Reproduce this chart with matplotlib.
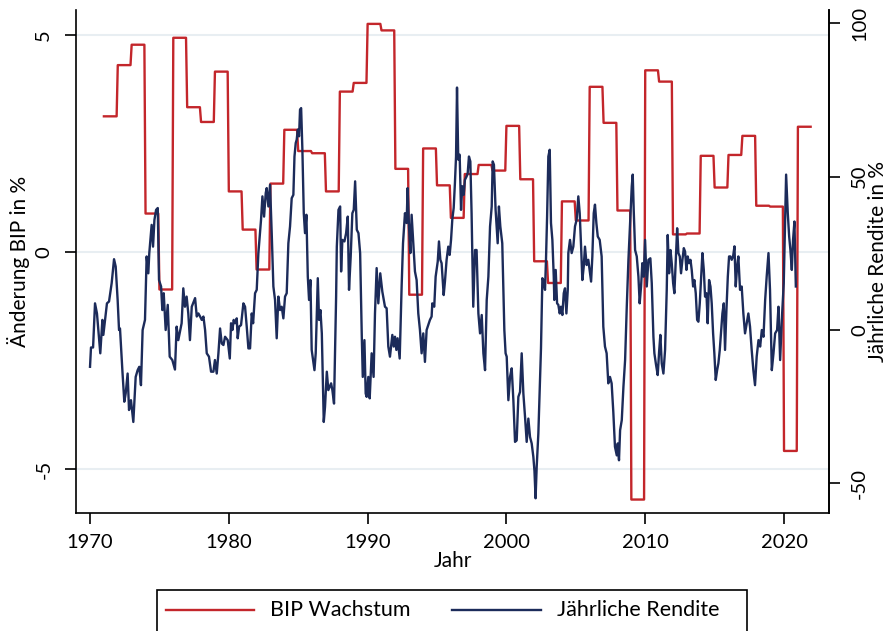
import matplotlib.pyplot as plt
from matplotlib.lines import Line2D
from matplotlib.patches import Rectangle

plt.rcParams['font.family'] = ['Lato', 'DejaVu Sans']

# BIP Wachstum, jaehrlich (in %)
bip_years = list(range(1971, 2022))
bip_values = [3.13, 4.31, 4.78, 0.89, -0.86, 4.94, 3.34, 3.00, 4.16, 1.40,
              0.52, -0.40, 1.58, 2.82, 2.33, 2.28, 1.40, 3.70, 3.90, 5.26,
              5.11, 1.92, -0.98, 2.39, 1.54, 0.79, 1.80, 2.01, 1.88, 2.91,
              1.68, -0.21, -0.71, 1.17, 0.73, 3.81, 2.98, 0.96, -5.70, 4.19,
              3.93, 0.41, 0.43, 2.22, 1.49, 2.24, 2.68, 1.07, 1.05, -4.58,
              2.89]

# Jaehrliche Rendite (in %)
ret_years = [
    1970.0, 1970.07, 1970.22, 1970.36, 1970.5, 1970.6, 1970.74, 1970.89, 1970.96, 1971.22,
    1971.37, 1971.56, 1971.73, 1971.85, 1971.99, 1972.09, 1972.16, 1972.33, 1972.47, 1972.57,
    1972.71, 1972.81, 1972.95, 1973.12, 1973.29, 1973.43, 1973.55, 1973.67, 1973.79, 1973.96,
    1974.08, 1974.2, 1974.27, 1974.44, 1974.54, 1974.64, 1974.76, 1974.88, 1974.97, 1975.12,
    1975.21, 1975.31, 1975.45, 1975.6, 1975.74, 1975.93, 1976.12, 1976.24, 1976.36, 1976.6,
    1976.72, 1976.84, 1976.96, 1977.08, 1977.2, 1977.33, 1977.57, 1977.69, 1977.81, 1977.93,
    1978.05, 1978.17, 1978.29, 1978.41, 1978.57, 1978.72, 1978.89, 1979.0, 1979.13, 1979.25,
    1979.37, 1979.49, 1979.61, 1979.73, 1979.92, 1980.07, 1980.16, 1980.26, 1980.35, 1980.45,
    1980.57, 1980.64, 1980.74, 1980.88, 1981.05, 1981.17, 1981.29, 1981.41, 1981.53, 1981.65,
    1981.75, 1981.89, 1982.01, 1982.13, 1982.25, 1982.32, 1982.42, 1982.54, 1982.66, 1982.73,
    1982.85, 1982.97, 1983.09, 1983.21, 1983.33, 1983.45, 1983.57, 1983.69, 1983.81, 1983.93,
    1984.05, 1984.17, 1984.29, 1984.41, 1984.53, 1984.65, 1984.73, 1984.82, 1984.89, 1984.97,
    1985.06, 1985.13, 1985.21, 1985.3, 1985.4, 1985.49, 1985.59, 1985.69, 1985.78, 1985.88,
    1985.97, 1986.17, 1986.26, 1986.41, 1986.5, 1986.6, 1986.7, 1986.84, 1986.93, 1987.06,
    1987.17, 1987.37, 1987.46, 1987.58, 1987.73, 1987.78, 1987.9, 1988.02, 1988.09, 1988.18,
    1988.33, 1988.45, 1988.57, 1988.66, 1988.78, 1988.9, 1989.0, 1989.1, 1989.22, 1989.34,
    1989.46, 1989.58, 1989.65, 1989.77, 1989.86, 1989.93, 1990.05, 1990.15, 1990.29, 1990.43,
    1990.53, 1990.65, 1990.77, 1990.91, 1991.06, 1991.25, 1991.37, 1991.49, 1991.61, 1991.78,
    1991.88, 1991.97, 1992.07, 1992.16, 1992.31, 1992.45, 1992.55, 1992.69, 1992.81, 1992.88,
    1992.98, 1993.08, 1993.17, 1993.29, 1993.41, 1993.53, 1993.65, 1993.77, 1993.89, 1994.01,
    1994.13, 1994.25, 1994.37, 1994.49, 1994.61, 1994.66, 1994.8, 1994.9, 1995.05, 1995.14,
    1995.24, 1995.33, 1995.48, 1995.57, 1995.69, 1995.81, 1995.91, 1996.01, 1996.1, 1996.2,
    1996.29, 1996.37, 1996.44, 1996.53, 1996.63, 1996.73, 1996.82, 1996.92, 1997.01, 1997.13,
    1997.21, 1997.3, 1997.4, 1997.49, 1997.61, 1997.74, 1997.85, 1997.98, 1998.1, 1998.22,
    1998.34, 1998.46, 1998.58, 1998.7, 1998.82, 1998.94, 1999.01, 1999.1, 1999.22, 1999.37,
    1999.46, 1999.56, 1999.7, 1999.85, 1999.94, 2000.02, 2000.14, 2000.26, 2000.38, 2000.5,
    2000.62, 2000.74, 2000.86, 2000.98, 2001.1, 2001.22, 2001.34, 2001.46, 2001.58, 2001.7,
    2001.82, 2001.94, 2002.02, 2002.1, 2002.18, 2002.3, 2002.42, 2002.49, 2002.59, 2002.69,
    2002.78, 2002.85, 2002.93, 2003.02, 2003.12, 2003.21, 2003.31, 2003.41, 2003.45, 2003.55,
    2003.65, 2003.74, 2003.84, 2003.93, 2004.03, 2004.13, 2004.22, 2004.32, 2004.42, 2004.46,
    2004.58, 2004.7, 2004.82, 2004.94, 2005.06, 2005.18, 2005.28, 2005.38, 2005.47, 2005.57,
    2005.66, 2005.78, 2005.9, 2006.02, 2006.1, 2006.19, 2006.29, 2006.38, 2006.48, 2006.58,
    2006.72, 2006.86, 2006.98, 2007.1, 2007.22, 2007.34, 2007.46, 2007.58, 2007.7, 2007.82,
    2007.95, 2008.02, 2008.11, 2008.19, 2008.31, 2008.43, 2008.55, 2008.67, 2008.79, 2008.91,
    2009.03, 2009.1, 2009.17, 2009.27, 2009.39, 2009.51, 2009.6, 2009.7, 2009.79, 2009.89,
    2009.99, 2010.11, 2010.23, 2010.37, 2010.47, 2010.59, 2010.66, 2010.78, 2010.9, 2011.0,
    2011.09, 2011.19, 2011.31, 2011.43, 2011.55, 2011.62, 2011.72, 2011.82, 2011.91, 2012.01,
    2012.1, 2012.2, 2012.3, 2012.39, 2012.49, 2012.58, 2012.68, 2012.78, 2012.87, 2012.97,
    2013.06, 2013.16, 2013.26, 2013.35, 2013.45, 2013.54, 2013.64, 2013.74, 2013.83, 2013.93,
    2014.03, 2014.12, 2014.22, 2014.31, 2014.41, 2014.5, 2014.6, 2014.7, 2014.79, 2014.89,
    2014.98, 2015.08, 2015.18, 2015.27, 2015.37, 2015.47, 2015.56, 2015.66, 2015.75, 2015.85,
    2015.95, 2016.04, 2016.14, 2016.23, 2016.33, 2016.43, 2016.52, 2016.62, 2016.71, 2016.83,
    2016.95, 2017.07, 2017.19, 2017.31, 2017.43, 2017.55, 2017.67, 2017.79, 2017.91, 2018.03,
    2018.16, 2018.28, 2018.4, 2018.52, 2018.64, 2018.75, 2018.88, 2018.99, 2019.12, 2019.24,
    2019.36, 2019.5, 2019.6, 2019.72, 2019.84, 2019.98, 2020.08, 2020.15, 2020.27, 2020.37,
    2020.46, 2020.56, 2020.65, 2020.75, 2020.85,
]
ret_values = [
    -12.0, -5.7, -5.7, 8.7, 5.4, 0.0, -7.6, 3.3, -1.6, 8.7,
    9.3, 15.3, 23.1, 20.7, 9.8, 0.0, 0.5, -13.1, -23.4, -20.7,
    -14.2, -26.1, -22.9, -30.0, -15.3, -13.1, -12.0, -18.0, 0.0, 3.3,
    24.0, 18.5, 25.1, 34.3, 27.2, 35.9, 39.2, 39.8, 16.3, 14.2,
    6.5, 12.0, 0.0, 8.2, -8.7, -9.8, -12.9, 1.1, -3.3, 2.2,
    13.6, 7.6, 10.9, 5.4, -3.3, 7.6, 10.4, 4.4, 5.4, 4.4,
    3.3, 4.4, 0.0, -7.6, -8.7, -13.6, -13.6, -9.8, -14.2, -7.6,
    0.5, -4.4, -4.9, -2.2, -3.3, -9.3, 2.2, 0.0, 3.3, 2.2,
    3.8, -2.7, 1.1, 1.6, 8.7, 7.6, 1.1, -6.0, -6.0, 5.4,
    2.2, 12.0, 13.1, 25.1, 32.1, 35.9, 43.6, 37.0, 44.7, 46.3,
    40.3, 47.4, 31.6, 14.2, 9.8, -2.7, 10.9, 6.5, 7.6, 3.8,
    10.9, 12.0, 28.3, 33.8, 43.0, 44.1, 56.6, 61.0, 62.1, 65.4,
    63.2, 71.9, 72.4, 58.8, 38.1, 31.6, 37.6, 17.4, 9.8, 16.3,
    -6.5, -13.1, -7.6, 16.9, 3.3, 6.5, -1.1, -30.0, -25.1, -13.6,
    -19.6, -17.4, -19.6, -24.0, 10.9, 27.2, 39.2, 40.3, 19.1, 29.4,
    28.9, 31.6, 37.0, 13.1, 23.9, 38.1, 39.2, 48.5, 32.7, 31.6,
    25.1, -2.2, -15.3, -3.3, -20.7, -21.8, -15.3, -22.3, -7.6, -15.3,
    5.4, 20.2, 8.7, 18.5, 12.5, 7.6, 7.1, -5.4, -8.7, -1.6,
    -5.4, -2.2, -6.5, -2.7, -9.3, 14.2, 28.3, 38.1, 34.9, 46.3,
    33.8, 25.1, 37.6, 28.3, 19.1, 16.3, 5.4, 0.0, -7.6, -1.1,
    -10.4, 0.0, 1.6, 3.3, 4.4, 8.7, 7.6, 17.4, 22.3, 28.9,
    22.9, 21.8, 11.4, 15.8, 22.9, 27.2, 24.5, 29.4, 36.0, 39.8,
    48.0, 56.6, 79.1, 55.6, 57.2, 39.2, 46.9, 44.1, 49.0, 50.1,
    51.2, 56.6, 55.0, 38.1, 7.6, 26.1, 26.1, 5.4, -1.1, 4.9,
    -7.6, -13.1, 9.8, 17.4, 33.8, 40.3, 55.0, 53.9, 39.2, 28.3,
    40.3, 33.8, 28.3, 0.0, -7.6, -8.7, -22.9, -15.3, -12.5, -22.9,
    -36.5, -36.0, -21.8, -20.2, -7.6, -20.7, -28.3, -36.5, -28.9, -34.9,
    -37.0, -41.4, -46.0, -54.9, -44.7, -33.8, -16.3, -6.0, 16.9, 15.8,
    13.1, 22.9, 37.0, 56.6, 58.8, 34.9, 29.4, 17.4, 9.8, 19.6,
    8.7, 8.2, 5.4, 7.6, 4.9, 12.0, 13.6, 5.4, 13.1, 25.1,
    29.4, 25.1, 27.2, 33.8, 36.0, 43.6, 38.1, 27.2, 16.3, 20.7,
    27.2, 21.2, 22.9, 18.5, 15.8, 24.0, 38.1, 40.9, 34.9, 30.5,
    29.4, 24.0, 1.1, -5.4, -7.6, -17.4, -15.3, -17.4, -26.7, -38.1,
    -40.9, -37.0, -42.5, -32.7, -29.4, -18.5, -9.8, 7.6, 22.9, 34.9,
    46.9, 50.7, 39.2, 26.1, 24.0, 17.4, 8.7, 14.2, 21.8, 17.4,
    29.4, 14.2, 22.9, 23.4, 15.3, -2.2, -7.6, -11.4, -14.7, -7.1,
    -1.6, -10.9, -14.2, -6.5, 13.1, 31.0, 18.5, 26.1, 21.8, 15.3,
    12.0, 22.9, 33.2, 25.1, 24.0, 18.5, 22.9, 26.7, 25.6, 19.6,
    24.0, 21.8, 22.9, 19.6, 14.2, 16.3, 12.0, 3.3, 2.7, 8.7,
    17.4, 25.1, 19.6, 10.9, 12.0, 2.2, 16.3, 14.2, 8.7, -1.1,
    -7.6, -16.3, -13.1, -10.9, -6.5, 0.0, 5.4, 8.7, -6.5, 6.5,
    17.4, 24.0, 24.0, 22.9, 24.0, 27.3, 14.2, 20.7, 24.0, 13.1,
    14.2, 5.4, -1.1, 2.2, 5.4, 1.1, -6.5, -13.1, -18.0, -8.7,
    -3.3, -5.4, 0.0, -2.2, 9.8, 17.4, 25.1, 13.1, -13.1, -7.6,
    -1.1, 0.0, 7.6, -9.8, 3.3, 15.3, 35.9, 50.7, 38.1, 30.5,
    26.1, 19.6, 29.4, 35.4, 14.2,
]

RED = '#c3262b'
NAVY = '#1c2b5a'
GRID = '#e8eef2'

# Jahreswert fuer jeden Monat wiederholen (Treppenverlauf)
bip_x, bip_y = [], []
for yr, v in zip(bip_years, bip_values):
    for m in range(12):
        bip_x.append(yr + m / 12)
        bip_y.append(v)

W, H = 888, 631
fig = plt.figure(figsize=(W / 100, H / 100), dpi=100)
ax = fig.add_axes([76 / W, 1 - 513 / H, (829 - 76) / W, (513 - 10) / H])
ax2 = ax.twinx()

ax.plot(bip_x, bip_y, color=RED, lw=1.7, zorder=3)
ax2.plot(ret_years, ret_values, color=NAVY, lw=1.7, zorder=3)

ax.set_xlim(1968.99, 2023.24)
ax.set_ylim(-6.01, 5.58)
ax2.set_ylim(-59.7, 104.4)

ax.set_yticks([5, 0, -5])
ax.set_yticklabels(['5', '0', '-5'])
ax2.set_yticks([100, 50, 0, -50])
ax2.set_yticklabels(['100', '50', '0', '-50'])
ax.set_xticks([1970, 1980, 1990, 2000, 2010, 2020])

ax.grid(axis='y', color=GRID, lw=1.5)
ax.set_axisbelow(True)

for a in (ax, ax2):
    a.spines['top'].set_visible(False)
    for s in a.spines.values():
        s.set_linewidth(1.2)
ax2.spines['left'].set_visible(False)
ax2.spines['bottom'].set_visible(False)

ax.tick_params(axis='both', direction='out', length=8, width=1.2, labelsize=14.5)
ax.tick_params(axis='x', pad=7)
ax.tick_params(axis='y', pad=9)
ax2.tick_params(axis='y', direction='out', length=8, width=1.2, labelsize=14.5, pad=8)
for lbl in ax.get_yticklabels() + ax2.get_yticklabels():
    lbl.set_rotation(90)
    lbl.set_va('center')

ax.set_xlabel('Jahr', fontsize=15, labelpad=0)
ax.set_ylabel('Änderung BIP in %', fontsize=15, labelpad=4)
ax2.set_ylabel('Jährliche Rendite in %', fontsize=15, rotation=90, labelpad=0)

# Legende unten, Rahmen laeuft ueber den Bildrand hinaus
fig.add_artist(Rectangle((157 / W, 1 - 645 / H), 590 / W, 55 / H, transform=fig.transFigure,
                         facecolor='white', edgecolor='black', lw=1.2, clip_on=False))
ly = 1 - 610 / H
fig.add_artist(Line2D([166 / W, 254 / W], [ly, ly], color=RED, lw=1.7, transform=fig.transFigure))
fig.text(270 / W, ly, 'BIP Wachstum', fontsize=15.5, va='center')
fig.add_artist(Line2D([452 / W, 541 / W], [ly, ly], color=NAVY, lw=1.7, transform=fig.transFigure))
fig.text(557 / W, ly, 'Jährliche Rendite', fontsize=15.5, va='center')

fig.savefig('out.png', dpi=100)
